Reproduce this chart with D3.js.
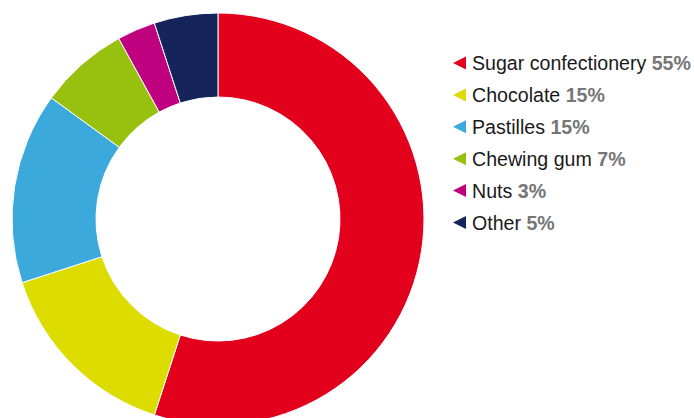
<!DOCTYPE html>
<html>
<head>
<meta charset="utf-8">
<script src="https://cdn.jsdelivr.net/npm/d3@7"></script>
<style>
  html, body { margin: 0; padding: 0; background: #fff; }
  svg { display: block; }
</style>
</head>
<body>
<svg id="chart" width="694" height="418"></svg>
<script>
// Market share by product category
const categories = ["Sugar confectionery", "Chocolate", "Pastilles", "Chewing gum", "Nuts", "Other"];
const shares = [55, 15, 15, 7, 3, 5];
const colors = ["#e2001d", "#dcdc00", "#3ba9dc", "#98c00f", "#bf007f", "#15245b"];

const svg = d3.select("#chart");
const cx = 218, cy = 219;
const outerR = 206, innerR = 122;

const data = categories.map((c, i) => ({ name: c, value: shares[i], color: colors[i] }));

const pie = d3.pie().value(d => d.value).sort(null);
const arc = d3.arc().innerRadius(innerR).outerRadius(outerR);

svg.append("g")
  .attr("transform", `translate(${cx},${cy})`)
  .selectAll("path")
  .data(pie(data))
  .join("path")
  .attr("d", arc)
  .attr("fill", d => d.data.color)
  .attr("stroke", "#fff")
  .attr("stroke-width", 1);

// Legend with left-pointing triangle markers
const legendX = 453, legendY = 63, rowGap = 31.9;
const row = svg.append("g")
  .selectAll("g")
  .data(data)
  .join("g")
  .attr("transform", (d, i) => `translate(${legendX},${legendY + i * rowGap})`);

row.append("path")
  .attr("d", "M0,0 L13,-6.5 L13,6.5 Z")
  .attr("fill", d => d.color);

const label = row.append("text")
  .attr("x", 19)
  .attr("y", 0)
  .attr("dy", "0.36em")
  .style("font-family", "'Liberation Sans', Arial, sans-serif")
  .style("font-size", "19.6px");

label.append("tspan")
  .attr("fill", "#1a1a1a")
  .text(d => d.name + " ");

label.append("tspan")
  .attr("fill", "#767676")
  .attr("font-weight", "bold")
  .text(d => d.value + "%");
</script>
</body>
</html>
